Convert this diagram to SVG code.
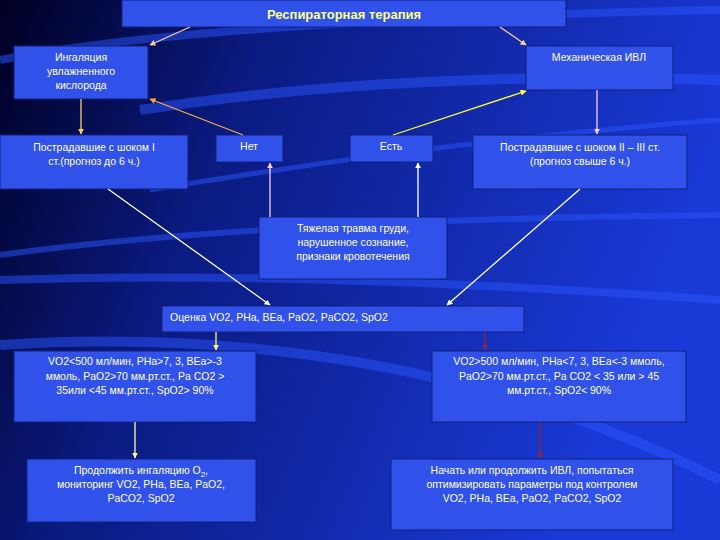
<svg xmlns="http://www.w3.org/2000/svg" width="720" height="540" viewBox="0 0 720 540">
<defs>
<linearGradient id="bg" x1="0" y1="0" x2="1" y2="0.3">
<stop offset="0" stop-color="#000022"/><stop offset="0.35" stop-color="#0a1a80"/><stop offset="1" stop-color="#1a3ad8"/>
</linearGradient>
<marker id="m" viewBox="0 0 10 10" refX="9" refY="5" markerWidth="6" markerHeight="6" orient="auto" markerUnits="userSpaceOnUse"><path d="M0,0L10,5L0,10z" fill="context-stroke"/></marker>
<style>
.b{fill:#3152ea;stroke:#10207a;stroke-width:1}
.t{font-family:"Liberation Sans",Arial,sans-serif;font-size:10.5px;fill:#ffffcc;text-anchor:middle}
.c line{stroke-width:1.3;marker-end:url(#m)}
</style>
</defs>
<rect width="720" height="540" fill="url(#bg)"/>
<g opacity="0.5" fill="none" stroke="#2a55ff">
<path d="M0,60 Q200,20 720,10" stroke-width="8"/>
<path d="M140,110 Q400,70 720,80" stroke-width="10"/>
<path d="M0,255 Q250,220 720,215" stroke-width="6"/>
<path d="M0,280 Q300,270 720,300" stroke-width="8"/>
<path d="M0,345 Q400,320 720,480" stroke-width="10"/>
<path d="M150,190 Q450,140 720,120" stroke-width="5"/>
</g>
<g id="n0"><rect class="b" x="122" y="0" width="444" height="27"/><text class="t" x="344" y="19" style="font-weight:bold;font-size:13px;fill:#ffff88">Респираторная терапия</text></g>
<g id="n1"><rect class="b" x="14" y="46" width="134" height="53"/><text class="t" x="81" y="61">Ингаляция</text><text class="t" x="81" y="75">увлажненного</text><text class="t" x="81" y="89">кислорода</text></g>
<g id="n2"><rect class="b" x="526" y="46" width="147" height="44"/><text class="t" x="599" y="61">Механическая ИВЛ</text></g>
<g id="n3"><rect class="b" x="0" y="135" width="188" height="54"/><text class="t" x="94" y="151">Пострадавшие с шоком I</text><text class="t" x="94" y="165">ст.(прогноз до 6 ч.)</text></g>
<g id="n4"><rect class="b" x="216" y="135" width="67" height="27"/><text class="t" x="249" y="150">Нет</text></g>
<g id="n5"><rect class="b" x="350" y="135" width="83" height="27"/><text class="t" x="391" y="150">Есть</text></g>
<g id="n6"><rect class="b" x="473" y="135" width="214" height="54"/><text class="t" x="580" y="151">Пострадавшие с шоком II – III ст.</text><text class="t" x="580" y="165">(прогноз свыше 6 ч.)</text></g>
<g id="n7"><rect class="b" x="259" y="217" width="188" height="62"/><text class="t" x="353" y="232">Тяжелая травма груди,</text><text class="t" x="353" y="246">нарушенное сознание,</text><text class="t" x="353" y="260">признаки кровотечения</text></g>
<g id="n8"><rect class="b" x="162" y="306" width="362" height="26"/><text class="t" x="170" y="321" style="text-anchor:start">Оценка VO2, PHa, BEa, PaO2, PaCO2, SpO2</text></g>
<g id="n9"><rect class="b" x="14" y="351" width="242" height="71"/><text class="t" x="135" y="365">VO2&lt;500 мл/мин, PHa&gt;7, 3, BEa&gt;-3</text><text class="t" x="135" y="380">ммоль, PaO2&gt;70 мм.рт.ст., Pa CO2 &gt;</text><text class="t" x="135" y="394">35или &lt;45 мм.рт.ст., SpO2&gt; 90%</text></g>
<g id="n10"><rect class="b" x="432" y="351" width="254" height="71"/><text class="t" x="559" y="365">VO2&gt;500 мл/мин, PHa&lt;7, 3, BEa&lt;-3 ммоль,</text><text class="t" x="559" y="380">PaO2&gt;70 мм.рт.ст., Pa CO2 &lt; 35 или &gt; 45</text><text class="t" x="559" y="394">мм.рт.ст., SpO2&lt; 90%</text></g>
<g id="n11"><rect class="b" x="27" y="459" width="229" height="63"/><text class="t" x="141" y="474">Продолжить ингаляцию O<tspan dy="3" font-size="8">2</tspan><tspan dy="-3">,</tspan></text><text class="t" x="141" y="488">мониторинг VO2, PHa, BEa, PaO2,</text><text class="t" x="141" y="502">PaCO2, SpO2</text></g>
<g id="n12"><rect class="b" x="391" y="459" width="282" height="71"/><text class="t" x="532" y="474">Начать или продолжить ИВЛ, попытаться</text><text class="t" x="532" y="488">оптимизировать параметры под контролем</text><text class="t" x="532" y="502">VO2, PHa, BEa, PaO2, PaCO2, SpO2</text></g>
<g class="c" id="connectors">
<line x1="190" y1="27" x2="150" y2="45" stroke="#ffcc99"/>
<line x1="500" y1="27" x2="526" y2="45" stroke="#ffcc99"/>
<line x1="81" y1="99" x2="81" y2="134" stroke="#ffcc66"/>
<line x1="243" y1="135" x2="150" y2="99" stroke="#ffaa44"/>
<line x1="393" y1="135" x2="526" y2="91" stroke="#ffff33"/>
<line x1="597" y1="90" x2="597" y2="134" stroke="#ffccdd"/>
<line x1="270" y1="217" x2="270" y2="163" stroke="#ffccdd"/>
<line x1="418" y1="217" x2="418" y2="163" stroke="#ffffff"/>
<line x1="108" y1="189" x2="270" y2="305" stroke="#ffffcc"/>
<line x1="580" y1="189" x2="447" y2="305" stroke="#ffffcc"/>
<line x1="216" y1="332" x2="216" y2="350" stroke="#ffff66"/>
<line x1="485" y1="332" x2="485" y2="350" stroke="#992233"/>
<line x1="135" y1="422" x2="135" y2="458" stroke="#ffff99"/>
<line x1="540" y1="422" x2="540" y2="458" stroke="#992233"/>
</g>
</svg>
